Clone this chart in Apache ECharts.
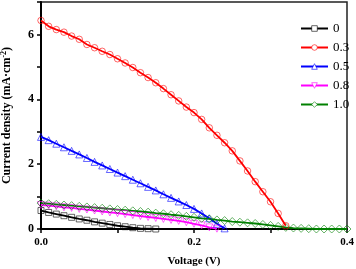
<!DOCTYPE html>
<html>
<head>
<meta charset="utf-8">
<script src="https://cdn.jsdelivr.net/npm/echarts@6/dist/echarts.min.js"></script>
<style>html,body{margin:0;padding:0;background:#fff}#c{width:356px;height:269px}</style>
</head>
<body>
<div id="c"></div>
<script>
var step = 0.01;
var seriesNames = ['0', '0.3', '0.5', '0.8', '1.0'];
var j0 = [0.57, 0.51, 0.46, 0.41, 0.36, 0.31, 0.27, 0.22, 0.18, 0.14, 0.10, 0.07, 0.04, 0.02, 0.01, 0.0];
var j03 = [6.43, 6.25, 6.15, 6.07, 5.95, 5.85, 5.69, 5.59, 5.48, 5.38, 5.25, 5.12, 4.98, 4.82, 4.67, 4.51, 4.33, 4.14, 3.95, 3.76, 3.59, 3.38, 3.12, 2.89, 2.66, 2.41, 2.10, 1.79, 1.46, 1.15, 0.84, 0.48, 0.10];
var j05 = [2.84, 2.74, 2.63, 2.52, 2.41, 2.30, 2.19, 2.07, 1.96, 1.85, 1.74, 1.63, 1.52, 1.41, 1.30, 1.19, 1.07, 0.96, 0.85, 0.74, 0.62, 0.48, 0.33, 0.16, 0.02];
var j08 = [0.74, 0.72, 0.70, 0.67, 0.65, 0.62, 0.60, 0.57, 0.54, 0.51, 0.49, 0.46, 0.43, 0.40, 0.37, 0.34, 0.31, 0.28, 0.25, 0.21, 0.16, 0.11, 0.05, 0.01];
var j10 = [0.80, 0.78, 0.76, 0.74, 0.72, 0.70, 0.68, 0.66, 0.64, 0.62, 0.60, 0.58, 0.56, 0.54, 0.52, 0.49, 0.47, 0.44, 0.42, 0.39, 0.36, 0.33, 0.31, 0.28, 0.26, 0.23, 0.21, 0.19, 0.17, 0.14, 0.11, 0.08, 0.05, 0.03, 0.02, 0.01, 0.0, 0.0, 0.0, 0.0, 0.0];
var xTicks = [0.0, 0.2, 0.4];
var yTicks = [0, 2, 4, 6];

function pairs(arr) {
  return arr.map(function (v, i) { return [+(i * step).toFixed(2), v]; });
}
var colors = ['#000000', '#ff0000', '#0000ff', '#ff00ff', '#008000'];
var markerBorders = ['rgba(0,0,0,0.6)', 'rgba(255,0,0,0.6)', 'rgba(0,0,255,0.6)', 'rgba(255,0,255,0.6)', 'rgba(0,128,0,0.6)'];
var symbols = ['rect', 'circle', 'triangle', 'triangle', 'diamond'];
var rotates = [0, 0, 0, 180, 0];
var sizes = [6, 6.5, 7, 7, 8];
var datas = [j0, j03, j05, j08, j10];

var serif = '"Liberation Serif", "Times New Roman", serif';
var series = datas.map(function (d, k) {
  return {
    name: seriesNames[k],
    type: 'line',
    data: pairs(d),
    symbol: symbols[k],
    symbolRotate: rotates[k],
    symbolSize: sizes[k],
    showAllSymbol: true,
    lineStyle: { color: colors[k], width: 1.8 },
    itemStyle: { color: 'rgba(255,255,255,0)', borderColor: markerBorders[k], borderWidth: 1 },
    emphasis: { disabled: true },
    animation: false,
    z: k === 1 ? 5 : 3
  };
});

var chart = echarts.init(document.getElementById('c'));
chart.setOption({
  animation: false,
  grid: { left: 41, right: 9, top: 2, bottom: 40, show: true, borderColor: '#222', borderWidth: 1.5, backgroundColor: 'transparent', containLabel: false, outerBoundsMode: 'none' },
  legend: {
    orient: 'vertical', left: 295, top: 17,
    itemWidth: 27, itemHeight: 7, itemGap: 6,
    textStyle: { fontFamily: serif, fontSize: 13, color: '#000', lineHeight: 9 },
    data: seriesNames.map(function (n, k) {
      return { name: n, itemStyle: { color: '#ffffff', borderColor: markerBorders[k], borderWidth: 1 } };
    })
  },
  xAxis: {
    type: 'value', min: 0, max: 0.4, interval: 0.2,
    name: 'Voltage (V)', nameLocation: 'middle', nameGap: 27,
    nameTextStyle: { fontFamily: serif, fontWeight: 'bold', fontSize: 11, color: '#000' },
    axisLine: { show: true, lineStyle: { color: '#000', width: 2 } },
    axisTick: { show: true, inside: false, length: 4, lineStyle: { color: '#000', width: 1.5 } },
    minorTick: { show: true, splitNumber: 2, length: 4, lineStyle: { color: '#000', width: 1.5 } },
    splitLine: { show: false },
    axisLabel: {
      margin: 8, fontFamily: serif, fontWeight: 'bold', fontSize: 11, color: '#000',
      formatter: function (v) { var t = xTicks.filter(function (a) { return Math.abs(a - v) < 1e-9; }); return t.length ? t[0].toFixed(1) : ''; }
    }
  },
  yAxis: {
    type: 'value', min: 0, max: 7, interval: 2,
    name: 'Current density (mA·cm{sup|-2})', nameLocation: 'middle', nameGap: 27, nameRotate: 90,
    nameTextStyle: {
      fontFamily: serif, fontWeight: 'bold', fontSize: 12, color: '#000',
      rich: { sup: { fontFamily: serif, fontWeight: 'bold', fontSize: 8, verticalAlign: 'top', padding: [0, 0, 6, 0], color: '#000' } }
    },
    axisLine: { show: true, lineStyle: { color: '#000', width: 2 } },
    axisTick: { show: true, inside: false, length: 4, lineStyle: { color: '#000', width: 1.5 } },
    minorTick: { show: true, splitNumber: 2, length: 4, lineStyle: { color: '#000', width: 1.5 } },
    splitLine: { show: false },
    axisLabel: {
      margin: 7, fontFamily: serif, fontWeight: 'bold', fontSize: 12, color: '#000',
      formatter: function (v) { return yTicks.indexOf(v) >= 0 ? String(v) : ''; }
    }
  },
  series: series
});
</script>
</body>
</html>
